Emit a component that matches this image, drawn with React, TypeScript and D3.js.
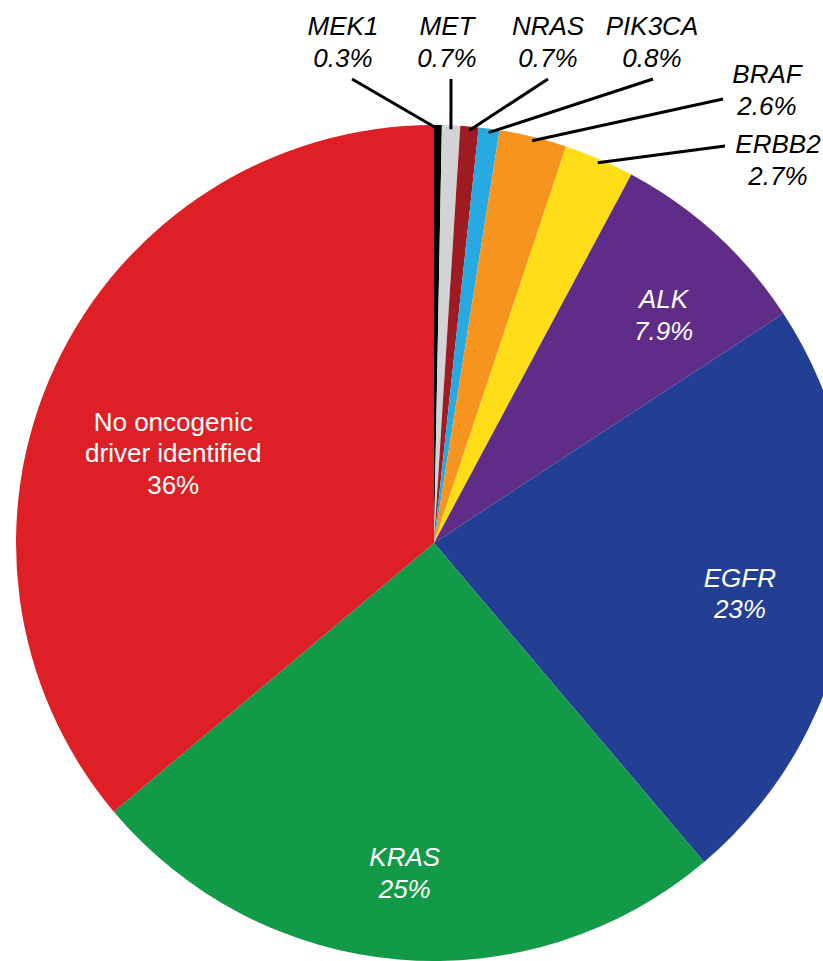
import React from 'react';
import * as d3 from 'd3';

// slices, clockwise from 12 o'clock
const genes = ['MEK1', 'MET', 'NRAS', 'PIK3CA', 'BRAF', 'ERBB2', 'ALK', 'EGFR', 'KRAS', 'No oncogenic driver identified'];
const shares = [0.3, 0.7, 0.7, 0.8, 2.6, 2.7, 7.9, 23, 25, 36];
const shareLabels = ['0.3%', '0.7%', '0.7%', '0.8%', '2.6%', '2.7%', '7.9%', '23%', '25%', '36%'];
const sliceColors = ['#000000', '#d1d3d4', '#9e1b21', '#27aae1', '#f7941e', '#ffdd17', '#5f2c87', '#233f93', '#139a48', '#de1f26'];

const width = 823;
const height = 961;
const cx = 434;
const cy = 543;
const R = 418;
const fontSize = 26;
const lineH = 31.5;
const font = '"Liberation Sans", Arial, Helvetica, sans-serif';

// callouts for the thin slices: leader line end + text center/first baseline
const callouts: Record<string, { lx: number; ly: number; tx: number; ty: number }> = {
  MEK1: { lx: 352, ly: 79, tx: 343, ty: 35 },
  MET: { lx: 451, ly: 79, tx: 447, ty: 35 },
  NRAS: { lx: 548, ly: 79, tx: 548, ty: 35 },
  PIK3CA: { lx: 653, ly: 79, tx: 652, ty: 35 },
  BRAF: { lx: 723, ly: 99, tx: 767, ty: 83 },
  ERBB2: { lx: 725, ly: 146, tx: 778, ty: 153 },
};

// labels drawn inside the big slices: radius and angle nudge (degrees)
const inside: Record<string, { r: number; da: number; lines: string[]; italic: boolean }> = {
  ALK: { r: 324, da: 2.7, lines: ['ALK'], italic: true },
  EGFR: { r: 310, da: 1.1, lines: ['EGFR'], italic: true },
  KRAS: { r: 331, da: 0.2, lines: ['KRAS'], italic: true },
  'No oncogenic driver identified': { r: 276, da: -5.9, lines: ['No oncogenic', 'driver identified'], italic: false },
};

type Slice = { gene: string; share: number; label: string; color: string };

const App: React.FC = () => {
  const data: Slice[] = genes.map((g, i) => ({ gene: g, share: shares[i], label: shareLabels[i], color: sliceColors[i] }));
  const pie = d3.pie<Slice>().value(d => d.share).sort(null);
  const arcs = pie(data);
  const arc = d3.arc<d3.PieArcDatum<Slice>>().innerRadius(0).outerRadius(R);

  return (
    <svg width={width} height={height} style={{ position: 'absolute', left: 0, top: 0, background: '#fff' }}
      fontFamily={font} fontSize={fontSize}>
      <g transform={`translate(${cx},${cy})`}>
        {arcs.map(a => (
          <path key={a.data.gene} d={arc(a) || ''} fill={a.data.color} />
        ))}
      </g>

      {arcs.filter(a => callouts[a.data.gene]).map(a => {
        const c = callouts[a.data.gene];
        const mid = (a.startAngle + a.endAngle) / 2;
        const [px, py] = d3.pointRadial(mid, R - 4);
        return (
          <g key={a.data.gene}>
            <line x1={cx + px} y1={cy + py} x2={c.lx} y2={c.ly} stroke="#000" strokeWidth={3} />
            <text x={c.tx} y={c.ty} textAnchor="middle" fontStyle="italic" fill="#000">{a.data.gene}</text>
            <text x={c.tx} y={c.ty + lineH} textAnchor="middle" fontStyle="italic" fill="#000">{a.data.label}</text>
          </g>
        );
      })}

      {arcs.filter(a => inside[a.data.gene]).map(a => {
        const l = inside[a.data.gene];
        const mid = (a.startAngle + a.endAngle) / 2 + (l.da * Math.PI) / 180;
        const [px, py] = d3.pointRadial(mid, l.r);
        const rows = [...l.lines, a.data.label];
        const top = cy + py - ((rows.length - 1) * lineH) / 2 + fontSize * 0.36;
        return (
          <g key={a.data.gene}>
            {rows.map((t, i) => (
              <text key={i} x={cx + px} y={top + i * lineH} textAnchor="middle" fill="#fff"
                fontStyle={l.italic ? 'italic' : 'normal'}>{t}</text>
            ))}
          </g>
        );
      })}
    </svg>
  );
};

export default App;
